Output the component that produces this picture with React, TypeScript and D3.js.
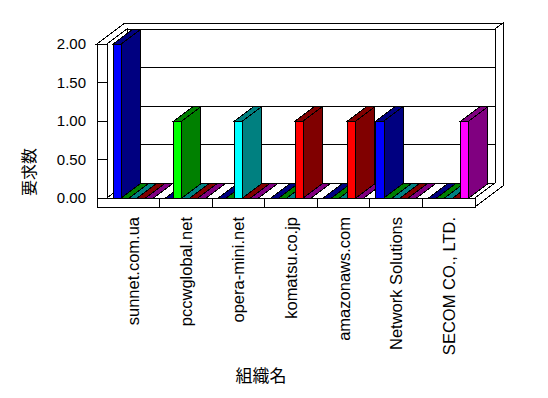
import React from "react";
import * as d3 from "d3";

// categories on the x axis (organisation names)
const categories = [
  "sunnet.com.ua",
  "pccwglobal.net",
  "opera-mini.net",
  "komatsu.co.jp",
  "amazonaws.com",
  "Network Solutions",
  "SECOM CO., LTD.",
];

// one row per series, one value per category
const seriesNames = ["s1", "s2", "s3", "s4", "s5"];
const seriesValues = [
  [2, 0, 0, 0, 0, 1, 0],
  [0, 1, 0, 0, 0, 0, 0],
  [0, 0, 1, 0, 0, 0, 0],
  [0, 0, 0, 1, 1, 0, 0],
  [0, 0, 0, 0, 0, 0, 1],
];
const frontColors = ["#0000FF", "#00FF00", "#00FFFF", "#FF0000", "#FF00FF"];
const darkColors = ["#000080", "#008000", "#008080", "#800000", "#800080"];

const yTicks = [0, 0.5, 1, 1.5, 2];
const yTickLabels = ["0.00", "0.50", "1.00", "1.50", "2.00"];

const width = 548;
const height = 398;

// plot frame
const left = 107;
const right = 475;
const wallT = 10; // left wall thickness
const DX = 20; // floor depth offset
const DY = 15;
const OX = 28; // depth incl. back wall thickness
const OY = 21;
const floorT = 9;
const barDepth = 0.95;

const font = "'Liberation Sans', Arial, sans-serif";
const cjk = "'Noto Sans CJK JP', sans-serif";

const pts = (p: number[][]) => p.map((d) => d.join(",")).join(" ");

export default function App() {
  const y = d3.scaleLinear().domain([0, 2]).range([198, 44]);
  const x = d3.scaleBand<string>().domain(categories).range([left, right]).padding(0);
  const xs = d3
    .scaleBand<string>()
    .domain(seriesNames)
    .range([0, x.bandwidth()])
    .paddingInner(0)
    .paddingOuter(0.75);

  const y0 = y(0);
  const y2 = y(2);
  const w = xs.bandwidth();
  const bdx = DX * barDepth;
  const bdy = DY * barDepth;

  const flat: JSX.Element[] = [];
  const bars: JSX.Element[] = [];
  categories.forEach((c, ci) => {
    seriesNames.forEach((s, si) => {
      const v = seriesValues[si][ci];
      const x0 = (x(c) as number) + (xs(s) as number);
      const yt = y(v);
      const top = pts([
        [x0, yt],
        [x0 + w, yt],
        [x0 + w + bdx, yt - bdy],
        [x0 + bdx, yt - bdy],
      ]);
      if (v === 0) {
        flat.push(<polygon key={c + s} points={top} fill={darkColors[si]} stroke="#000" />);
      } else {
        bars.push(
          <g key={c + s} stroke="#000">
            <polygon points={top} fill={darkColors[si]} />
            <polygon
              points={pts([
                [x0 + w, yt],
                [x0 + w + bdx, yt - bdy],
                [x0 + w + bdx, y0 - bdy],
                [x0 + w, y0],
              ])}
              fill={darkColors[si]}
            />
            <rect x={x0} y={yt} width={w} height={y0 - yt} fill={frontColors[si]} />
          </g>
        );
      }
    });
  });

  return (
    <svg
      width={width}
      height={height}
      style={{ position: "absolute", left: 0, top: 0, background: "#fff" }}
      shapeRendering="crispEdges"
    >
      {/* back wall */}
      <rect x={left + DX} y={y2 - DY} width={right - left} height={y0 - y2} fill="#fff" stroke="#000" />
      {yTicks.slice(1, -1).map((t) => (
        <line key={t} x1={left + DX} x2={right + DX} y1={y(t) - DY} y2={y(t) - DY} stroke="#000" />
      ))}
      {/* walls top and right slab */}
      <polygon
        points={pts([
          [left - wallT, y2],
          [left, y2],
          [left + DX, y2 - DY],
          [right + DX, y2 - DY],
          [right + OX, y2 - OY],
          [left - wallT + OX, y2 - OY],
        ])}
        fill="#fff"
        stroke="#000"
      />
      <polygon
        points={pts([
          [right + DX, y2 - DY],
          [right + OX, y2 - OY],
          [right + OX, y0 + floorT - OY],
          [right, y0 + floorT],
          [right, y0],
          [right + DX, y0 - DY],
        ])}
        fill="#fff"
        stroke="#000"
      />
      {/* left wall inner face */}
      <polygon
        points={pts([
          [left, y2],
          [left + DX, y2 - DY],
          [left + DX, y0 - DY],
          [left, y0],
        ])}
        fill="#fff"
        stroke="#000"
      />
      {/* floor top */}
      <polygon
        points={pts([
          [left, y0],
          [right, y0],
          [right + DX, y0 - DY],
          [left + DX, y0 - DY],
        ])}
        fill="#fff"
        stroke="#000"
      />
      {flat}
      {bars}
      {/* front faces */}
      <rect x={left - wallT} y={y0} width={right - left + wallT} height={floorT} fill="#fff" stroke="#000" />
      <rect x={left - wallT} y={y2} width={wallT} height={y0 - y2} fill="#fff" stroke="#000" />
      {yTicks.slice(1, -1).map((t) => (
        <line key={t} x1={left - wallT} x2={left} y1={y(t)} y2={y(t)} stroke="#000" />
      ))}
      {categories.slice(1).map((c) => (
        <line key={c} x1={x(c)} x2={x(c)} y1={y0} y2={y0 + floorT} stroke="#000" />
      ))}

      {/* y tick labels */}
      {yTicks.map((t, i) => (
        <text
          key={t}
          x={86}
          y={y(t)}
          dy="0.36em"
          textAnchor="end"
          fontFamily={font}
          fontSize={15}
          shapeRendering="auto"
        >
          {yTickLabels[i]}
        </text>
      ))}
      {/* x labels */}
      {categories.map((c) => {
        const cx = (x(c) as number) + x.bandwidth() / 2;
        return (
          <text
            key={c}
            transform={`translate(${cx},217) rotate(-90)`}
            dy="0.36em"
            textAnchor="end"
            fontFamily={font}
            fontSize={16.5}
          >
            {c}
          </text>
        );
      })}
      {/* axis titles */}
      <text
        transform="translate(29,172) rotate(-90)"
        dy="0.36em"
        textAnchor="middle"
        fontFamily={cjk}
        fontSize={16}
      >
        要求数
      </text>
      <text x={261} y={382} textAnchor="middle" fontFamily={cjk} fontSize={17}>
        組織名
      </text>
    </svg>
  );
}
